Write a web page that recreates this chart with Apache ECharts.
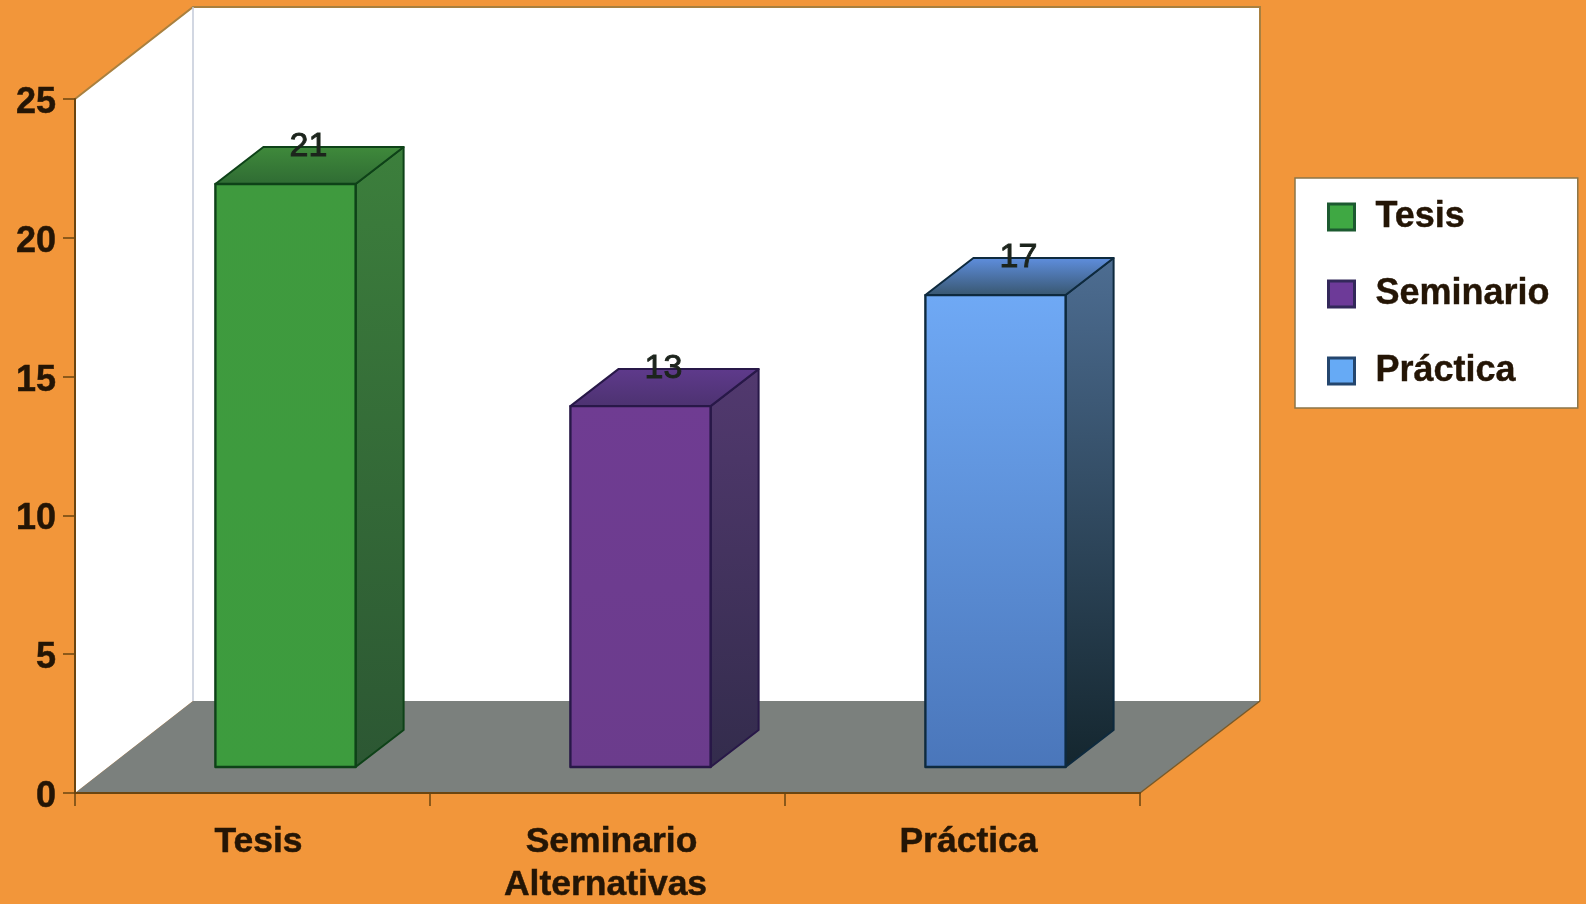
<!DOCTYPE html>
<html>
<head>
<meta charset="utf-8">
<style>html,body{margin:0;padding:0;background:#F2963A;}#c{width:1586px;height:904px;}</style>
<script src="https://cdn.jsdelivr.net/npm/echarts@6/dist/echarts.min.js"></script>
</head>
<body>
<div id="c"></div>
<script>
const categories = ['Tesis', 'Seminario\nAlternativas', 'Práctica'];
const seriesNames = ['Tesis', 'Seminario', 'Práctica'];
const values = [21, 13, 17];
const yTicks = { min: 0, max: 25, interval: 5 };

const V = (a, b) => ({ type: 'linear', x: 0, y: 0, x2: 0, y2: 1, colorStops: [{ offset: 0, color: a }, { offset: 1, color: b }] });
const looks = [
  { front: V('#3f9a3e', '#3d9c3e'), side: V('#3c7f3c', '#2c5733'), top: V('#3f8a3b', '#2f6b33'), line: '#0e4218', legend: '#3fa843', legendLine: '#1c5a30' },
  { front: V('#6f3c92', '#6b3c8c'), side: V('#52396f', '#332c4c'), top: V('#5f3a8c', '#4c3270'), line: '#281848', legend: '#6d3a98', legendLine: '#33285a' },
  { front: V('#6fa9f5', '#4a76ba'), side: V('#4d6d92', '#14262e'), top: V('#5f8fe0', '#38566e'), line: '#0e2a3e', legend: '#66aaf5', legendLine: '#24466e' }
];
// 3-D projection offsets, in pixels
const FLOOR_DX = 120, FLOOR_DY = 92, BAR_IN_DX = 33, BAR_IN_DY = 26, BAR_DX = 48, BAR_DY = 37, BAR_W = 0.395;

function poly(points, fill, stroke, lw) {
  return { type: 'polygon', shape: { points }, style: { fill, stroke: stroke || null, lineWidth: lw || 0, lineJoin: 'round' } };
}
function renderWalls(params, api) {
  const o = api.coord([0, 0]);
  const t = api.coord([0, yTicks.max]);
  const x0 = params.coordSys.x, x1 = x0 + params.coordSys.width;
  const y0 = o[1], y1 = t[1];
  const bx0 = x0 + FLOOR_DX - 2, bx1 = x1 + FLOOR_DX, by0 = y0 - FLOOR_DY, by1 = y1 - FLOOR_DY;
  return {
    type: 'group',
    children: [
      poly([[x0, y0], [x0, y1], [bx0, by1], [bx0, by0]], '#ffffff'),
      poly([[bx0, by1], [bx1, by1], [bx1, by0], [bx0, by0]], '#ffffff'),
      poly([[x0, y0], [x1, y0], [bx1, by0], [bx0, by0]], '#7b807d'),
      { type: 'polyline', shape: { points: [[x0, y1], [bx0, by1], [bx1, by1], [bx1, by0]] }, style: { fill: null, stroke: '#a9803f', lineWidth: 2 } },
      { type: 'polyline', shape: { points: [[bx0, by1], [bx0, by0]] }, style: { fill: null, stroke: '#c3cad8', lineWidth: 1.5 } },
      { type: 'polyline', shape: { points: [[x1, y0], [bx1, by0]] }, style: { fill: null, stroke: '#7a5a28', lineWidth: 1.5 } }
    ]
  };
}
function renderBar(look) {
  return function (params, api) {
    const cat = api.value(0), val = api.value(1);
    const base = api.coord([cat, 0]), head = api.coord([cat, val]);
    const w = api.size([1, 0])[0] * BAR_W;
    const xl = base[0] - w / 2 + BAR_IN_DX, xr = xl + w;
    const yb = base[1] - BAR_IN_DY, yt = head[1] - BAR_IN_DY;
    const s = look.line;
    return {
      type: 'group',
      children: [
        poly([[xr, yt], [xr + BAR_DX, yt - BAR_DY], [xr + BAR_DX, yb - BAR_DY], [xr, yb]], look.side, s, 2),
        poly([[xl, yt], [xl + BAR_DX, yt - BAR_DY], [xr + BAR_DX, yt - BAR_DY], [xr, yt]], look.top, s, 2),
        poly([[xl, yt], [xr, yt], [xr, yb], [xl, yb]], look.front, s, 2.4),
        { type: 'text', z2: 10, style: { text: String(val), x: (xl + xr) / 2 + 23, y: yt - BAR_DY, align: 'center', verticalAlign: 'middle', fill: '#1c241c', stroke: '#1c241c', lineWidth: 0.9, font: 'normal 34px "Liberation Sans", Arial, sans-serif' } }
      ]
    };
  };
}

const textDark = '#241505';
const fontF = '"Liberation Sans", Arial, sans-serif';
const labelFont = { color: textDark, fontFamily: fontF, fontWeight: 'bold', fontSize: 35.5, lineHeight: 43, textBorderColor: textDark, textBorderWidth: 0.5 };
const chart = echarts.init(document.getElementById('c'), null, { renderer: 'canvas' });
chart.setOption({
  animation: false,
  backgroundColor: '#F2963A',
  grid: { left: 75, right: 446, top: 99, bottom: 111, containLabel: false, outerBoundsMode: 'none' },
  xAxis: {
    type: 'category', data: categories, z: 3,
    axisLine: { lineStyle: { color: '#6b4510', width: 2 } },
    axisTick: { show: true, length: 13, alignWithLabel: false, lineStyle: { color: '#6b4510', width: 1.5 } },
    axisLabel: Object.assign({}, labelFont, {
      margin: 28, padding: [0, 0, 0, 12], interval: 0,
      formatter: v => { const p = v.split('\n'); return p.length > 1 ? `{a|${p[0]}}\n{b|${p[1]}}` : v; },
      rich: { a: Object.assign({}, labelFont, { padding: [0, 4, 0, 0] }), b: Object.assign({}, labelFont, { padding: [0, 16, 0, 0] }) }
    })
  },
  yAxis: {
    type: 'value', min: yTicks.min, max: yTicks.max, interval: yTicks.interval, z: 3,
    splitLine: { show: false },
    axisLine: { show: true, lineStyle: { color: '#6b4510', width: 2 } },
    axisTick: { show: true, length: 12, lineStyle: { color: '#6b4510', width: 1.5 } },
    axisLabel: { color: textDark, fontFamily: fontF, fontWeight: 'bold', fontSize: 36, margin: 19, verticalAlign: 'top', lineHeight: 8, textBorderColor: textDark, textBorderWidth: 0.5 }
  },
  legend: {
    orient: 'vertical', left: 1295, top: 178,
    backgroundColor: '#ffffff', borderColor: '#8c7648', borderWidth: 1.5,
    padding: [17, 28, 15, 32], itemGap: 33, itemWidth: 26, itemHeight: 26,
    selectedMode: false,
    formatter: n => `{t|${n}}`,
    textStyle: {
      color: textDark, fontFamily: fontF, fontWeight: 'bold', fontSize: 36, padding: [0, 0, 0, 16],
      rich: { t: { color: textDark, fontFamily: fontF, fontWeight: 'bold', fontSize: 36, lineHeight: 44, height: 44, verticalAlign: 'bottom', textBorderColor: textDark, textBorderWidth: 0.4 } }
    },
    data: seriesNames.map((n, i) => ({ name: n, icon: 'rect', itemStyle: { color: looks[i].legend, borderColor: looks[i].legendLine, borderWidth: 3 } }))
  },
  series: [
    { type: 'custom', name: 'walls', z: 1, silent: true, clip: false, renderItem: renderWalls, data: [[0, 0]], encode: { x: 0, y: 1 } }
  ].concat(seriesNames.map((n, i) => ({
    type: 'custom', name: n, z: 5, silent: true, clip: false,
    renderItem: renderBar(looks[i]),
    data: [[i, values[i]]], encode: { x: 0, y: 1 },
    itemStyle: { color: looks[i].legend }
  })))
});
</script>
</body>
</html>
